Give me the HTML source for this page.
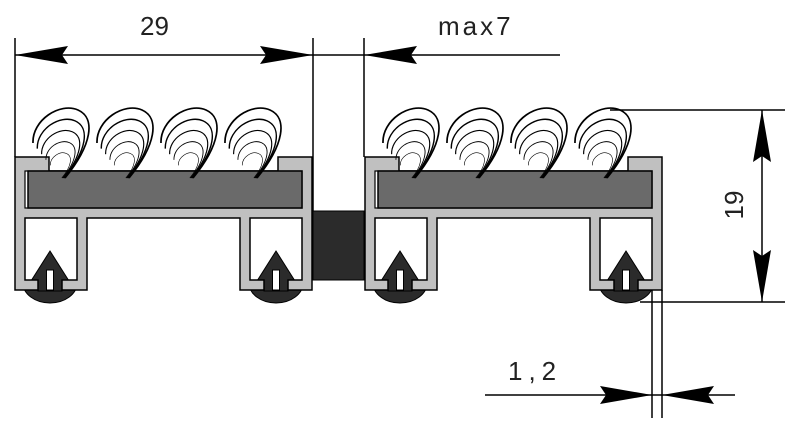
<!DOCTYPE html>
<html><head><meta charset="utf-8"><style>
html,body{margin:0;padding:0;background:#fff;}
svg{display:block;}
text{font-family:"Liberation Sans",sans-serif;fill:#222;}
</style></head><body>
<svg width="800" height="431" viewBox="0 0 800 431" xmlns="http://www.w3.org/2000/svg">
<defs>
  <g id="loop" fill="none" stroke="#000" stroke-width="1.7">
    <path id="lp" d="M13 43 C12 20 40 2 58 10 C76 18 72 45 45 78"/>
    <use href="#lp" transform="translate(40,78) scale(.84) translate(-40,-78)"/>
    <use href="#lp" transform="translate(40,78) scale(.68) translate(-40,-78)"/>
    <use href="#lp" transform="translate(40,78) scale(.52) translate(-40,-78)"/>
    <use href="#lp" transform="translate(40,78) scale(.36) translate(-40,-78)"/>
  </g>
  <g id="seal">
    <path d="M-27 283 A27 20 0 0 0 27 283 Z" fill="#2b2b2b" stroke="#000"/>
    <path d="M0 251 L19 281 L12 281 L12 291 L-12 291 L-12 281 L-19 281 Z" fill="#2b2b2b" stroke="#000"/>
  </g>
  <g id="prof">
    <use href="#seal" x="35"/>
    <use href="#seal" x="261"/>
    <!-- frame -->
    <path d="M0 157 L0 290 L23 290 L23 280 L10 280 L10 218 L62 218 L62 280 L47 280 L47 290 L72 290 L72 218 L225 218 L225 290 L249 290 L249 280 L235 280 L235 218 L287 218 L287 280 L273 280 L273 290 L297 290 L297 157 L263 157 L263 171 L34 171 L34 157 Z" fill="#c0c0c0" stroke="#000" stroke-width="1.5"/>
    <rect x="10" y="171" width="277" height="37" fill="#fff" stroke="#000" stroke-width="1.2"/>
    <rect x="13" y="171" width="274" height="37" fill="#6a6a6a" stroke="#000" stroke-width="1.5"/>
    <rect x="31.5" y="270" width="7" height="20" fill="#fff" stroke="#000"/>
    <rect x="257.5" y="270" width="7" height="20" fill="#fff" stroke="#000"/>
    <use href="#loop" x="5" y="100"/>
    <use href="#loop" x="69" y="100"/>
    <use href="#loop" x="133" y="100"/>
    <use href="#loop" x="197" y="100"/>
  </g>
</defs>
<use href="#prof" x="15"/>
<use href="#prof" x="365"/>
<rect x="313" y="211" width="51" height="69" fill="#2b2b2b" stroke="#000"/>
<g stroke="#000" stroke-width="1.5" fill="none">
  <line x1="15" y1="38" x2="15" y2="157"/>
  <line x1="313" y1="38" x2="313" y2="211"/>
  <line x1="364" y1="38" x2="364" y2="157"/>
  <line x1="15" y1="55" x2="313" y2="55"/>
  <line x1="313" y1="55" x2="560" y2="55"/>
  <line x1="610" y1="110" x2="785" y2="110"/>
  <line x1="640" y1="302" x2="785" y2="302"/>
  <line x1="762" y1="110" x2="762" y2="302"/>
  <line x1="652" y1="290" x2="652" y2="418"/>
  <line x1="662" y1="290" x2="662" y2="418"/>
  <line x1="485" y1="395" x2="735" y2="395"/>
</g>
<g fill="#000">
  <path d="M15 55 L68 46 L62 55 L68 64 Z"/>
  <path d="M313 55 L260 46 L266 55 L260 64 Z"/>
  <path d="M364 55 L417 46 L411 55 L417 64 Z"/>
  <path d="M762 110 L753 162 L762 156 L771 162 Z"/>
  <path d="M762 302 L753 250 L762 256 L771 250 Z"/>
  <path d="M652 395 L600 386 L606 395 L600 404 Z"/>
  <path d="M662 395 L714 386 L708 395 L714 404 Z"/>
</g>
<text x="140" y="35" font-size="26">29</text>
<text x="438" y="35" font-size="26" letter-spacing="3">max7</text>
<text x="508" y="380" font-size="26" letter-spacing="6">1,2</text>
<text x="0" y="0" font-size="26" transform="translate(743,205) rotate(-90)" text-anchor="middle">19</text>
</svg>
</body></html>
